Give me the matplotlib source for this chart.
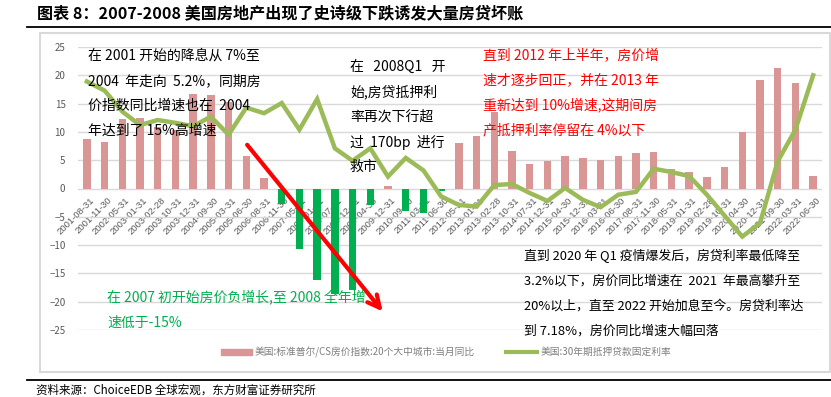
import numpy as np
import matplotlib
matplotlib.use("Agg")
import matplotlib.pyplot as plt
from matplotlib.patches import Rectangle
from matplotlib.lines import Line2D

plt.rcParams['font.family'] = ['Noto Sans CJK SC', 'DejaVu Sans']

dates = ['2001-08-31', '2001-11-30', '2002-05-31', '2003-01-31', '2003-02-28', '2003-10-31',
         '2003-12-31', '2004-09-30', '2005-03-31', '2005-06-30', '2006-08-31', '2006-11-30',
         '2007-05-31', '2008-01-31', '2008-07-31', '2008-12-31', '2009-04-30', '2009-12-31',
         '2010-09-30', '2011-03-31', '2011-06-30', '2012-05-31', '2013-01-31', '2013-02-28',
         '2013-10-31', '2014-07-31', '2014-12-31', '2015-04-30', '2015-12-31', '2016-03-31',
         '2016-06-30', '2017-08-31', '2017-11-30', '2018-05-31', '2019-01-31', '2019-02-28',
         '2019-10-31', '2020-04-30', '2020-12-31', '2021-09-30', '2022-03-31', '2022-06-30']

# house price index yoy (left axis)
hpi = [8.7, 8.2, 12.3, 12.4, 10.8, 10.4, 16.7, 16.5, 15.2, 5.7, 1.8, -2.8,
       -10.7, -16.1, -18.6, -18.0, -2.9, 0.5, -3.9, -4.4, -0.4, 8.0, 9.2, 13.5,
       6.7, 4.3, 4.9, 5.7, 5.4, 5.1, 5.7, 6.3, 6.4, 3.5, 2.9, 2.1,
       3.8, 10.0, 19.2, 21.3, 18.7, 2.2]

# 30y mortgage rate, read in chart units
rate = [18.9, 17.3, 13.6, 11.2, 12.1, 11.6, 11.0, 12.7, 9.5, 14.3, 13.3, 15.1,
        10.4, 15.8, 7.1, 4.9, 7.1, 2.1, 5.4, 3.2, -1.4, -2.9, -3.2, 0.6,
        0.8, -0.8, -2.2, 0.1, -2.0, -3.3, -1.1, -0.6, 3.5, 2.9, 2.2, -1.1,
        -4.8, -8.5, -6.1, 4.8, 10.4, 20.0]

legend_labels = ['美国:标准普尔/CS房价指数:20个大中城市:当月同比', '美国:30年期抵押贷款固定利率']

W, H = 831, 397
fig = plt.figure(figsize=(W / 100, H / 100), dpi=100)


def fx(px):
    return px / W


def fy(py):
    return 1 - py / H


# chart frame
fig.patches.append(Rectangle((fx(40), fy(372)), fx(790), fy(33) - fy(372), transform=fig.transFigure,
                             fill=False, edgecolor='#D9D9D9', lw=1.5))

ax = fig.add_axes([fx(78), fy(330), fx(822) - fx(78), fy(47) - fy(330)])
x = np.arange(len(dates))
colors = ['#D99694' if v >= 0 else '#00B050' for v in hpi]
ax.bar(x, hpi, width=0.42, color=colors, zorder=2)
ax.plot(x, rate, color='#9BBB59', lw=3.2, zorder=3, solid_joinstyle='miter')

ax.set_xlim(-0.5, len(dates) - 0.5)
ax.set_ylim(-25, 25)
ax.set_yticks(np.arange(-25, 26, 5))
ax.tick_params(axis='y', length=0, labelsize=7, labelcolor='#595959', pad=9)
ax.set_xticks([])
ax.grid(axis='y', color='#D9D9D9', lw=1, zorder=0)
for s in ax.spines.values():
    s.set_visible(False)

for i, d in enumerate(dates):
    ax.annotate(d, (i, 0), xytext=(2, -5), textcoords='offset points', ha='right', va='top',
                rotation=45, rotation_mode='anchor', fontsize=6.8, color='#595959',
                family='Liberation Sans', zorder=1)

ax.annotate('', xy=(16.8, -22.1), xytext=(8.95, 8.1),
            arrowprops=dict(arrowstyle='->', color='red', lw=3, mutation_scale=22))


def block(px, py, lines, color, step=25, size=10):
    for k, t in enumerate(lines):
        fig.text(fx(px), fy(py + k * step), t, color=color, fontsize=size, va='center', ha='left')


block(88, 56, ['在 2001 开始的降息从 7%至', '2004  年走向  5.2%，同期房',
               '价指数同比增速也在  2004', '年达到了 15%高增速'], 'black')
block(350, 67, ['在   2008Q1   开', '始,房贷抵押利', '率再次下行超', '过  170bp  进行', '救市'], 'black')
block(483, 55, ['直到 2012 年上半年，房价增', '速才逐步回正，并在 2013 年',
                '重新达到 10%增速,这期间房', '产抵押利率停留在 4%以下'], 'red')
block(524, 256, ['直到 2020 年 Q1 疫情爆发后，房贷利率最低降至', '3.2%以下，房价同比增速在  2021  年最高攀升至',
                 '20%以上，直至 2022 开始加息至今。房贷利率达', '到 7.18%，房价同比增速大幅回落'],
      'black', step=25, size=9.3)
block(107, 297, ['在 2007 初开始房价负增长,至 2008 全年增', '速低于-15%'], '#00B050', step=26)

handles = [Rectangle((0, 0), 1, 1, color='#D99694'), Line2D([], [], color='#9BBB59', lw=3)]
fig.legend(handles, legend_labels, loc='center', bbox_to_anchor=(fx(446), fy(352)), ncol=2,
           frameon=False, fontsize=7, labelcolor='#7F7F7F', handlelength=3.2,
           handleheight=0.6, columnspacing=3.2, handletextpad=0.3)

# title and source
fig.text(fx(37), fy(13), '图表 8：2007-2008 美国房地产出现了史诗级下跌诱发大量房贷坏账',
         fontsize=11.6, fontweight='bold', va='center', ha='left')
fig.add_artist(Line2D([fx(27), 1], [fy(26.5), fy(26.5)], color='black', lw=1.3, transform=fig.transFigure))
fig.add_artist(Line2D([fx(27), 1], [fy(380), fy(380)], color='black', lw=1.3, transform=fig.transFigure))
fig.text(fx(36), fy(390), '资料来源：ChoiceEDB 全球宏观，东方财富证券研究所', fontsize=8.3, va='center', ha='left')

fig.savefig('out.png', dpi=100)
